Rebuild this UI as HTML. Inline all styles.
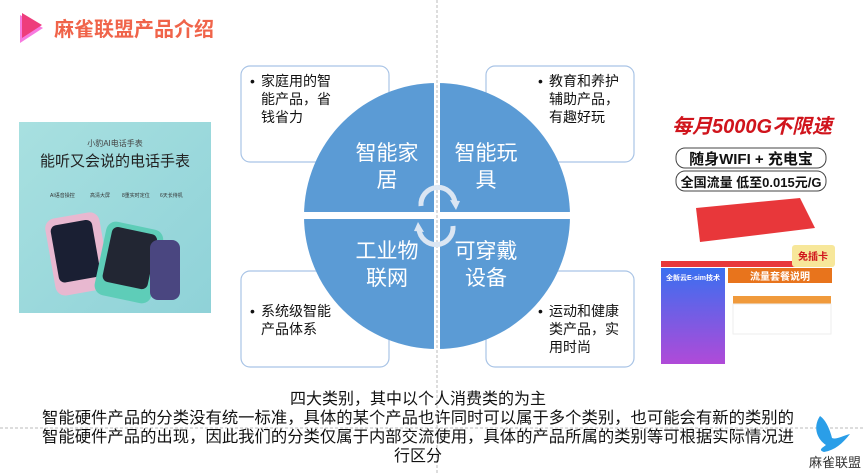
<!DOCTYPE html>
<html><head><meta charset="utf-8"><style>
body{margin:0;width:865px;height:475px;background:#fff;overflow:hidden;position:relative;font-family:"Liberation Sans","Noto Sans CJK SC",sans-serif}
svg{position:absolute;left:0;top:0}
.t{font-family:"Liberation Sans","Noto Sans CJK SC",sans-serif}
</style></head><body>
<svg width="865" height="475" viewBox="0 0 865 475">
<defs>
<clipPath id="c"><circle cx="437" cy="216" r="133"/></clipPath>
<linearGradient id="g1" x1="0" y1="0" x2="1" y2="1"><stop offset="0" stop-color="#a8e0e0"/><stop offset="1" stop-color="#8fd2d8"/></linearGradient>
<linearGradient id="g2" x1="0" y1="0" x2="0" y2="1"><stop offset="0" stop-color="#3a6ff0"/><stop offset="1" stop-color="#b04ad8"/></linearGradient>
</defs>
<polygon points="20,15 43,28 20,43" fill="#f77ae0"/>
<polygon points="22,13 42,25 22,38" fill="#ee3d7c"/>
<text x="54" y="36" class="t" font-size="20" font-weight="bold" fill="#f0644a">麻雀联盟产品介绍</text>
<line x1="437" y1="0" x2="437" y2="475" stroke="#bbb" stroke-dasharray="3,2"/>
<line x1="0" y1="428" x2="865" y2="428" stroke="#bbb" stroke-dasharray="3,2"/>
<g fill="#fff" stroke="#a9c4e6" stroke-width="1.2">
<rect x="241" y="66" width="148" height="96" rx="9"/>
<rect x="486" y="66" width="148" height="96" rx="9"/>
<rect x="241" y="271" width="148" height="96" rx="9"/>
<rect x="486" y="271" width="148" height="96" rx="9"/>
</g>
<g clip-path="url(#c)" fill="#5b9bd5">
<rect x="300" y="80" width="134" height="132"/>
<rect x="440" y="80" width="134" height="132"/>
<rect x="300" y="219" width="134" height="134"/>
<rect x="440" y="219" width="134" height="134"/>
</g>
<path d="M421,206 A17,17 0 0 1 455,203" fill="none" stroke="#dbe6f3" stroke-width="5"/>
<polygon points="450,200 460,201 456,210" fill="#dbe6f3"/>
<path d="M453,226 A17,17 0 0 1 419,229" fill="none" stroke="#dbe6f3" stroke-width="5"/>
<polygon points="424,232 414,231 418,222" fill="#dbe6f3"/>
<g class="t" fill="#fff" font-size="21" text-anchor="middle">
<text x="387" y="160">智能家</text><text x="387" y="187">居</text>
<text x="486" y="160">智能玩</text><text x="486" y="187">具</text>
<text x="387" y="258">工业物</text><text x="387" y="285">联网</text>
<text x="486" y="258">可穿戴</text><text x="486" y="285">设备</text>
</g>
<g class="t" fill="#111" font-size="14">
<text x="250" y="86">•</text><text x="261" y="86">家庭用的智</text><text x="261" y="104">能产品，省</text><text x="261" y="122">钱省力</text>
<text x="538" y="86">•</text><text x="549" y="86">教育和养护</text><text x="549" y="104">辅助产品，</text><text x="549" y="122">有趣好玩</text>
<text x="250" y="316">•</text><text x="261" y="316">系统级智能</text><text x="261" y="334">产品体系</text>
<text x="538" y="316">•</text><text x="549" y="316">运动和健康</text><text x="549" y="334">类产品，实</text><text x="549" y="352">用时尚</text>
</g>
<rect x="19" y="122" width="192" height="191" fill="url(#g1)"/>
<text x="115" y="166" class="t" font-size="15" text-anchor="middle" fill="#222">能听又会说的电话手表</text>
<text x="115" y="146" class="t" font-size="8" text-anchor="middle" fill="#444">小豹AI电话手表</text>
<g fill="#333" font-size="5" class="t"><text x="50" y="197">AI语音操控</text><text x="90" y="197">高清大屏</text><text x="122" y="197">8重实时定位</text><text x="160" y="197">6天长待机</text></g>
<rect x="50" y="215" width="55" height="78" rx="10" fill="#e8b8d0" transform="rotate(-10 77 254)"/>
<rect x="55" y="222" width="42" height="58" rx="6" fill="#1a1f33" transform="rotate(-10 77 254)"/>
<rect x="100" y="225" width="58" height="75" rx="10" fill="#5ecdb8" transform="rotate(12 129 262)"/>
<rect x="106" y="230" width="46" height="56" rx="6" fill="#222633" transform="rotate(12 129 262)"/>
<rect x="150" y="240" width="30" height="60" rx="8" fill="#4a4680"/>
<text x="752" y="133" class="t" font-size="20" font-weight="bold" font-style="italic" text-anchor="middle" fill="#d0141c">每月5000G不限速</text>
<rect x="676" y="148" width="150" height="20" rx="9" fill="#fff" stroke="#444"/>
<text x="751" y="164" class="t" font-size="15" font-weight="bold" text-anchor="middle" fill="#111">随身WIFI + 充电宝</text>
<rect x="676" y="171" width="150" height="20" rx="9" fill="#fff" stroke="#444"/>
<text x="751" y="187" class="t" font-size="13" font-weight="bold" text-anchor="middle" fill="#111">全国流量 低至0.015元/G</text>
<polygon points="696,208 800,198 815,228 700,242" fill="#e8373a"/>
<rect x="661" y="261" width="135" height="6" fill="#e8373a"/>
<rect x="792" y="245" width="43" height="22" rx="3" fill="#f7e79a"/>
<text x="813" y="260" class="t" font-size="10" font-weight="bold" text-anchor="middle" fill="#d0141c">免插卡</text>
<rect x="661" y="268" width="64" height="96" fill="url(#g2)"/>
<text x="693" y="280" class="t" font-size="7" font-weight="bold" text-anchor="middle" fill="#fff">全新云E-sim技术</text>
<rect x="728" y="268" width="104" height="15" fill="#e8741c"/>
<text x="780" y="280" class="t" font-size="10" font-weight="bold" text-anchor="middle" fill="#fff">流量套餐说明</text>
<rect x="733" y="296" width="98" height="8" fill="#f09a3c"/>
<rect x="733" y="304" width="98" height="30" fill="#fff" stroke="#eee"/>
<g class="t" font-size="16" fill="#111" text-anchor="middle">
<text x="418" y="404">四大类别，其中以个人消费类的为主</text>
<text x="418" y="423" textLength="752" lengthAdjust="spacingAndGlyphs">智能硬件产品的分类没有统一标准，具体的某个产品也许同时可以属于多个类别，也可能会有新的类别的</text>
<text x="418" y="442" textLength="752" lengthAdjust="spacingAndGlyphs">智能硬件产品的出现，因此我们的分类仅属于内部交流使用，具体的产品所属的类别等可根据实际情况进</text>
<text x="418" y="461">行区分</text>
</g>
<path d="M820,416 C812,428 818,440 826,445 C822,448 818,450 824,452 C835,450 842,444 850,434 C842,436 836,440 832,438 C830,430 826,420 820,416Z" fill="#2a9ee8"/>
<text x="835" y="467" class="t" font-size="13" text-anchor="middle" fill="#333">麻雀联盟</text>
</svg>
</body></html>
